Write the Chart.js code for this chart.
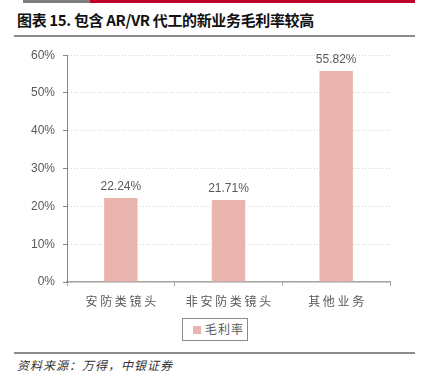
<!DOCTYPE html>
<html>
<head>
<meta charset="utf-8">
<script src="https://cdn.jsdelivr.net/npm/chart.js@4/dist/chart.umd.min.js"></script>
<style>
  html, body { margin: 0; padding: 0; background: #fff; }
  body { width: 423px; height: 387px; position: relative; overflow: hidden; font-family: "Noto Sans CJK SC", "Noto Sans", sans-serif; }
  .bar-grey { position: absolute; left: 23px; top: 0; width: 67px; height: 3px; background: #7f7f7f; }
  .bar-red { position: absolute; left: 90px; top: 0; width: 325px; height: 3px; background: #c0002a; }
  .title { position: absolute; left: 17px; top: 9px; font-size: 15px; letter-spacing: -0.35px; font-weight: bold; color: #111; white-space: nowrap; }
  .rule { position: absolute; left: 14px; width: 401px; height: 1.5px; background: #8c8c8c; }
  #wrap { position: absolute; left: 0; top: 40px; width: 423px; height: 275px; }
  .legend { position: absolute; left: 182px; top: 318px; width: 66px; height: 23px; border: 1px solid #8c8c8c; font-size: 12px; color: #595959; box-sizing: border-box; white-space: nowrap; }
  .legend i { position: absolute; left: 10px; top: 7px; width: 8px; height: 8px; }
  .legend span { position: absolute; left: 22px; top: 2px; letter-spacing: 1px; line-height: 16px; }
  .source { position: absolute; left: 17px; top: 356px; font-size: 12px; font-style: italic; color: #333; letter-spacing: 1px; }
</style>
</head>
<body>
<div class="bar-grey"></div>
<div class="bar-red"></div>
<div class="title">图表 15. 包含 AR/VR 代工的新业务毛利率较高</div>
<div class="rule" style="top:35px"></div>
<div id="wrap"><canvas id="chart"></canvas></div>
<div class="legend"><i id="legendBox"></i><span id="legendText"></span></div>
<div class="rule" style="top:352px"></div>
<div class="source">资料来源：万得，中银证券</div>
<script>
const categories = ['安防类镜头', '非安防类镜头', '其他业务'];
const seriesName = '毛利率';
const marginValues = [22.24, 21.71, 55.82];
const yTicks = [0, 10, 20, 30, 40, 50, 60];

const barColor = '#e9b3ae';
document.getElementById('legendBox').style.background = barColor;
document.getElementById('legendText').textContent = seriesName;

// value labels above bars
const valueLabels = {
    id: 'valueLabels',
    afterDatasetsDraw(chart) {
        const ctx = chart.ctx;
        ctx.save();
        ctx.font = '12px "Liberation Sans", Arial, sans-serif';
        ctx.fillStyle = '#595959';
        ctx.textAlign = 'center';
        ctx.textBaseline = 'bottom';
        chart.getDatasetMeta(0).data.forEach((bar, i) => {
            ctx.fillText(marginValues[i].toFixed(2) + '%', bar.x, bar.y - 5);
        });
        ctx.restore();
    }
};

new Chart(document.getElementById('chart'), {
    type: 'bar',
    data: {
        labels: categories,
        datasets: [{
            label: seriesName,
            data: marginValues,
            backgroundColor: barColor,
            barPercentage: 0.62,
            categoryPercentage: 0.5
        }]
    },
    options: {
        responsive: true,
        maintainAspectRatio: false,
        animation: false,
        layout: { padding: { left: 0, right: 33, top: 15, bottom: 0 } },
        plugins: {
            legend: { display: false },
            tooltip: { enabled: false }
        },
        scales: {
            x: {
                grid: { display: true, drawOnChartArea: false, drawTicks: true, tickLength: 4, color: '#a6a6a6', offset: true },
                border: { display: true, color: '#a6a6a6', width: 1.5 },
                ticks: {
                    color: '#595959',
                    padding: 8,
                    font: { family: '"Noto Sans CJK SC", sans-serif', size: 12 },
                    callback: (v, i) => categories[i].split('').join(' ')
                },
                afterFit: s => { s.height = 33; }
            },
            y: {
                min: 0,
                max: 60,
                afterBuildTicks: s => { s.ticks = yTicks.map(v => ({ value: v })); },
                grid: { color: '#d4d4d4', tickColor: '#868686', tickLength: 4, borderDash: [1, 2] },
                border: { display: true, color: '#868686', width: 1, dash: [1, 2] },
                ticks: {
                    color: '#595959',
                    padding: 8,
                    font: { family: '"Liberation Sans", Arial, sans-serif', size: 12 },
                    callback: v => v + '%'
                },
                afterFit: s => { s.width = 67; }
            }
        }
    },
    plugins: [valueLabels]
});
</script>
</body>
</html>
